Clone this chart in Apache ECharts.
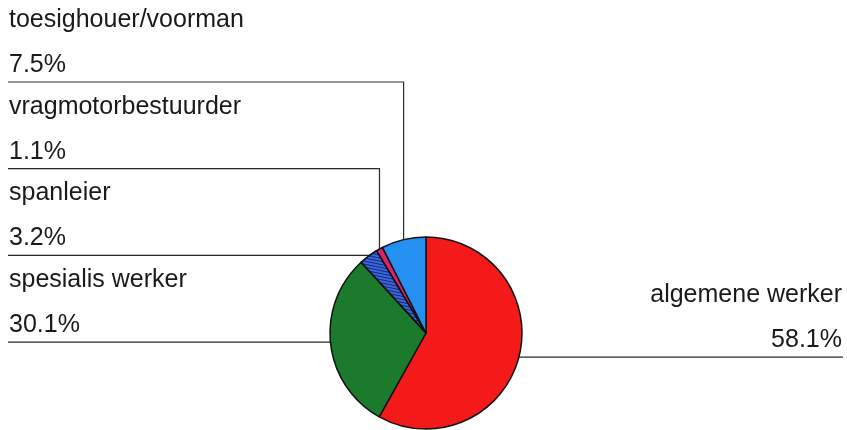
<!DOCTYPE html>
<html>
<head>
<meta charset="utf-8">
<script src="https://cdn.jsdelivr.net/npm/echarts@6/dist/echarts.min.js"></script>
<style>
  html, body { margin: 0; padding: 0; background: #fff; }
  #chart { width: 847px; height: 430px; }
</style>
</head>
<body>
<div id="chart"></div>
<script>
// job categories, clockwise from 12 o'clock
const categories = ['algemene werker', 'spesialis werker', 'spanleier', 'vragmotorbestuurder', 'toesighouer/voorman'];
const shares = [58.1, 30.1, 3.2, 1.1, 7.5];

const sliceColors = ['#f51a1a', '#1b7a2c', '#3a68dc', '#e0206e', '#2491f2'];
// slot of the label on the left (top to bottom), -1 = right side
const leftSlot = [-1, 3, 2, 1, 0];

const chart = echarts.init(document.getElementById('chart'));

const textFont = 'Liberation Sans, Arial, sans-serif';
const rowTop = 82;
const rowStep = 86.7;
const leftX = 8;
const rightX = 843;

const data = categories.map((name, i) => {
  const item = {
    name: name,
    value: shares[i],
    itemStyle: { color: sliceColors[i] }
  };
  if (i === 2) {
    item.itemStyle.decal = {
      symbol: 'rect',
      symbolSize: 1,
      dashArrayX: [1, 0],
      dashArrayY: [1, 2],
      rotation: 0.2,
      color: '#15287a'
    };
  }
  if (leftSlot[i] < 0) {
    item.label = {
      align: 'right',
      rich: {
        n: { align: 'right' },
        p: { align: 'right' }
      }
    };
  }
  return item;
});

chart.setOption({
  animation: false,
  series: [{
    type: 'pie',
    center: [426, 333],
    radius: 96,
    startAngle: 90,
    clockwise: true,
    avoidLabelOverlap: false,
    itemStyle: {
      borderColor: '#111',
      borderWidth: 1.5
    },
    label: {
      show: true,
      position: 'outside',
      formatter: '{n|{b}}\n{p|{c}%}',
      color: '#1a1a1a',
      fontFamily: textFont,
      rich: {
        n: { fontSize: 25, lineHeight: 45, fontFamily: textFont, color: '#1a1a1a' },
        p: { fontSize: 25, lineHeight: 45, fontFamily: textFont, color: '#1a1a1a' }
      }
    },
    labelLine: {
      show: true,
      length: 10,
      length2: 10,
      lineStyle: { color: '#2a2a2a', width: 1.2 }
    },
    labelLayout: function (params) {
      const i = params.dataIndex;
      const anchor = params.labelLinePoints[0];
      if (leftSlot[i] < 0) {
        const ly = anchor[1];
        return {
          x: rightX - 1,
          y: ly - 39.5,
          align: 'right',
          verticalAlign: 'middle',
          labelLinePoints: [anchor, [anchor[0], ly], [rightX, ly]]
        };
      }
      const ly = rowTop + leftSlot[i] * rowStep;
      return {
        x: leftX + 1,
        y: ly - 39.5,
        align: 'left',
        verticalAlign: 'middle',
        labelLinePoints: [anchor, [anchor[0], ly], [leftX, ly]]
      };
    },
    data: data
  }]
});
</script>
</body>
</html>
